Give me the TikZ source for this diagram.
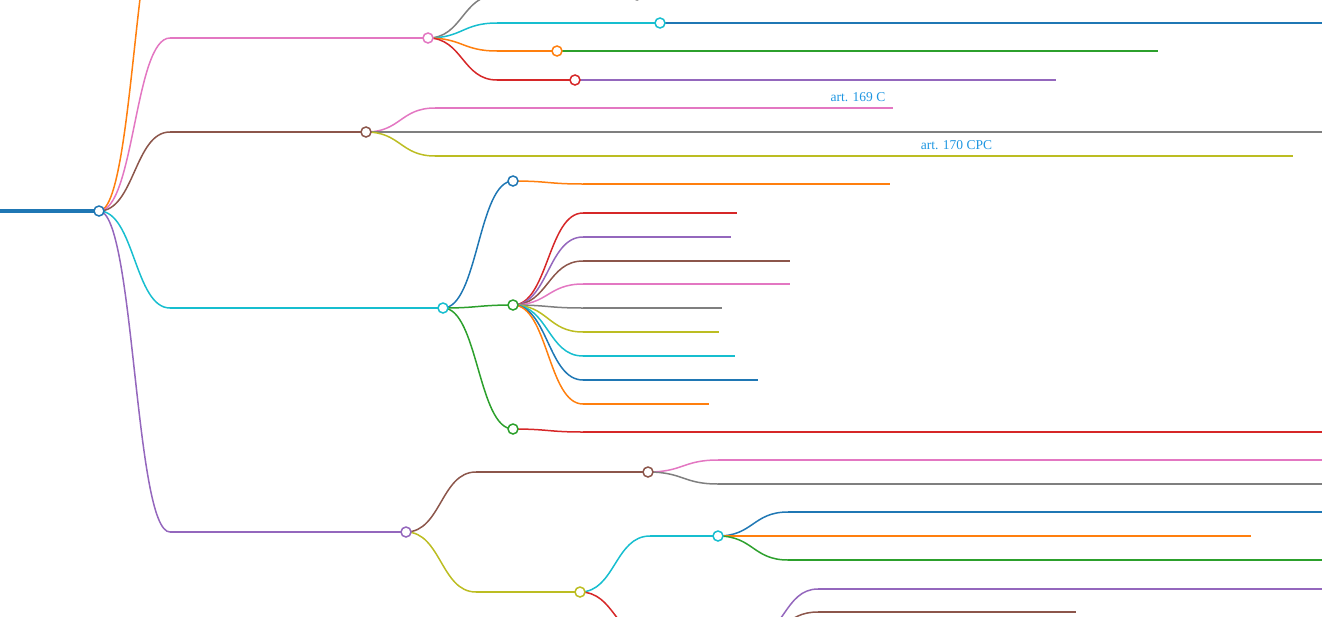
\documentclass[tikz,border=0pt]{standalone}
\usepackage{fontspec}
\setmainfont{Liberation Serif}
\definecolor{mmblue}{HTML}{1F77B4}
\definecolor{mmorange}{HTML}{FF7F0E}
\definecolor{mmgreen}{HTML}{2CA02C}
\definecolor{mmred}{HTML}{D62728}
\definecolor{mmpurple}{HTML}{9467BD}
\definecolor{mmbrown}{HTML}{8C564B}
\definecolor{mmpink}{HTML}{E377C2}
\definecolor{mmgray}{HTML}{7F7F7F}
\definecolor{mmolive}{HTML}{BCBD22}
\definecolor{mmcyan}{HTML}{17BECF}
\definecolor{mmtext}{HTML}{1E96E1}
\def\mmlink[#1](#2)(#3){\path (#2) -- coordinate[pos=0.5] (mm) (#3); \draw[#1] (#2) .. controls (mm |- #2) and (mm |- #3) .. (#3);}

\begin{document}
\begin{tikzpicture}[x=1pt,y=-1pt,line width=1.5pt,
	dot/.style={circle,draw=#1,fill=white,line width=1.5pt,minimum size=10pt,inner sep=0pt},
	lbl/.style={text=mmtext,font=\fontsize{13.5}{16}\selectfont,inner sep=0pt}]
				\useasboundingbox (0,0) rectangle (1322,616);
				\clip (0,0) rectangle (1322,616);

				%%%%% root %%%%%
				\coordinate (rt0) at (0,211);
				\coordinate (rt) at (99,211);
				\coordinate (or) at (170,-115);
				\coordinate (pk0) at (170,38);  \coordinate (pk) at (428,38);
				\coordinate (br0) at (170,132); \coordinate (br) at (366,132);
				\coordinate (cy0) at (170,308); \coordinate (cy) at (443,308);
				\coordinate (pu0) at (170,532); \coordinate (pu) at (406,532);

				\draw[mmblue,line width=4pt] (rt0) -- (rt);
				\mmlink[mmorange](rt)(or);
				\mmlink[mmpink](rt)(pk0);   \draw[mmpink] (pk0) -- (pk);
				\mmlink[mmbrown](rt)(br0);  \draw[mmbrown] (br0) -- (br);
				\mmlink[mmcyan](rt)(cy0);   \draw[mmcyan] (cy0) -- (cy);
				\mmlink[mmpurple](rt)(pu0); \draw[mmpurple] (pu0) -- (pu);

				%%%%% pink branch %%%%%
				\coordinate (pg0) at (497,-5); \coordinate (pg) at (637,-5);
				\coordinate (pc0) at (497,23); \coordinate (pc) at (660,23);
				\coordinate (po0) at (497,51); \coordinate (po) at (557,51);
				\coordinate (pr0) at (497,80); \coordinate (pr) at (575,80);
				\mmlink[mmgray](pk)(pg0);   \draw[mmgray] (pg0) -- (pg);
				\mmlink[mmcyan](pk)(pc0);   \draw[mmcyan] (pc0) -- (pc);
				\mmlink[mmorange](pk)(po0); \draw[mmorange] (po0) -- (po);
				\mmlink[mmred](pk)(pr0);    \draw[mmred] (pr0) -- (pr);

				\coordinate (pcb0) at (730,23); \coordinate (pcb1) at (1322,23);
				\coordinate (pog0) at (627,51); \coordinate (pog1) at (1158,51);
				\coordinate (prp0) at (645,80); \coordinate (prp1) at (1056,80);
				\mmlink[mmblue](pc)(pcb0);   \draw[mmblue] (pcb0) -- (pcb1);
				\mmlink[mmgreen](po)(pog0);  \draw[mmgreen] (pog0) -- (pog1);
				\mmlink[mmpurple](pr)(prp0); \draw[mmpurple] (prp0) -- (prp1);

				%%%%% brown branch %%%%%
				\coordinate (bp0) at (435,108); \coordinate (bp1) at (893,108);
				\coordinate (bg0) at (435,132); \coordinate (bg1) at (1322,132);
				\coordinate (bo0) at (435,156); \coordinate (bo1) at (1293,156);
				\mmlink[mmpink](br)(bp0);  \draw[mmpink] (bp0) -- (bp1);
				\mmlink[mmgray](br)(bg0);  \draw[mmgray] (bg0) -- (bg1);
				\mmlink[mmolive](br)(bo0); \draw[mmolive] (bo0) -- (bo1);
				\node[lbl,anchor=base east] (l169) at (886,101) {art. 169 C};
				\node[lbl,anchor=base west] (l170) at (920,149) {art. 170 CPC};

				%%%%% cyan branch %%%%%
				\coordinate (cb) at (513,181);
				\coordinate (cg) at (513,305);
				\coordinate (ch) at (513,429);
				\mmlink[mmblue](cy)(cb);
				\mmlink[mmgreen](cy)(cg);
				\mmlink[mmgreen](cy)(ch);

				\coordinate (cbo0) at (583,184); \coordinate (cbo1) at (890,184);
				\mmlink[mmorange](cb)(cbo0); \draw[mmorange] (cbo0) -- (cbo1);
				\coordinate (chr0) at (583,432); \coordinate (chr1) at (1322,432);
				\mmlink[mmred](ch)(chr0); \draw[mmred] (chr0) -- (chr1);

				\foreach \y/\len/\c in {213/737/mmred,237/731/mmpurple,261/790/mmbrown,
					284/790/mmpink,308/722/mmgray,332/719/mmolive,356/735/mmcyan,
					380/758/mmblue,404/709/mmorange}{
					\coordinate (lf0) at (583,\y); \coordinate (lf1) at (\len,\y);
					\mmlink[\c](cg)(lf0); \draw[\c] (lf0) -- (lf1);
				}

				%%%%% purple branch %%%%%
				\coordinate (ub0) at (476,472); \coordinate (ub) at (648,472);
				\coordinate (uo0) at (476,592); \coordinate (uo) at (580,592);
				\mmlink[mmbrown](pu)(ub0); \draw[mmbrown] (ub0) -- (ub);
				\mmlink[mmolive](pu)(uo0); \draw[mmolive] (uo0) -- (uo);

				\coordinate (ubp0) at (718,460); \coordinate (ubp1) at (1322,460);
				\coordinate (ubg0) at (718,484); \coordinate (ubg1) at (1322,484);
				\mmlink[mmpink](ub)(ubp0); \draw[mmpink] (ubp0) -- (ubp1);
				\mmlink[mmgray](ub)(ubg0); \draw[mmgray] (ubg0) -- (ubg1);

				\coordinate (uc0) at (650,536); \coordinate (uc) at (718,536);
				\coordinate (ur0) at (650,638); \coordinate (ur) at (750,638);
				\mmlink[mmcyan](uo)(uc0); \draw[mmcyan] (uc0) -- (uc);
				\mmlink[mmred](uo)(ur0);  \draw[mmred] (ur0) -- (ur);

				\coordinate (ucb0) at (788,512); \coordinate (ucb1) at (1322,512);
				\coordinate (uco0) at (788,536); \coordinate (uco1) at (1251,536);
				\coordinate (ucg0) at (788,560); \coordinate (ucg1) at (1322,560);
				\mmlink[mmblue](uc)(ucb0);   \draw[mmblue] (ucb0) -- (ucb1);
				\mmlink[mmorange](uc)(uco0); \draw[mmorange] (uco0) -- (uco1);
				\mmlink[mmgreen](uc)(ucg0);  \draw[mmgreen] (ucg0) -- (ucg1);

				\coordinate (urp0) at (818,589); \coordinate (urp1) at (1322,589);
				\coordinate (urb0) at (818,612); \coordinate (urb1) at (1076,612);
				\mmlink[mmpurple](ur)(urp0); \draw[mmpurple] (urp0) -- (urp1);
				\mmlink[mmbrown](ur)(urb0);  \draw[mmbrown] (urb0) -- (urb1);

				% circles on top
				\foreach \n/\c in {rt/mmblue,pk/mmpink,br/mmbrown,cy/mmcyan,pu/mmpurple,
					pg/mmgray,pc/mmcyan,po/mmorange,pr/mmred,cb/mmblue,cg/mmgreen,ch/mmgreen,
					ub/mmbrown,uo/mmolive,uc/mmcyan}
					\node[dot=\c] (\n-c) at (\n) {};
			\end{tikzpicture}
\end{document}
